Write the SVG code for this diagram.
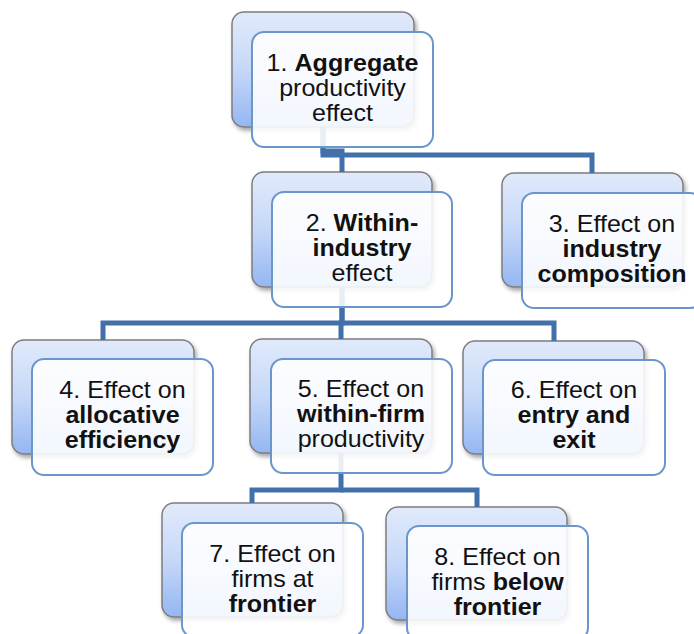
<svg xmlns="http://www.w3.org/2000/svg" width="694" height="634" viewBox="0 0 694 634">
  <defs>
    <linearGradient id="backGrad" x1="0" y1="0" x2="0" y2="1">
      <stop offset="0" stop-color="#e1eafb"/>
      <stop offset="0.5" stop-color="#c6d8f8"/>
      <stop offset="1" stop-color="#94b6f2"/>
    </linearGradient>
    <filter id="shadow" x="-10%" y="-10%" width="125%" height="130%">
      <feDropShadow dx="2" dy="3" stdDeviation="2" flood-color="#000" flood-opacity="0.35"/>
    </filter>
  </defs>
  <style>
    .back { fill: url(#backGrad); stroke: #7d7d7d; stroke-width: 1.5; filter: url(#shadow); }
    .front { fill: #ffffff; fill-opacity: 0.88; stroke: #6a96cc; stroke-width: 2; }
    .conn { fill: none; stroke: #4270aa; stroke-width: 5; stroke-linejoin: miter; }
    .lbl { font-family: "Liberation Sans", Arial, sans-serif; font-size: 23px; fill: #111111; text-anchor: middle; }
    .b { font-weight: bold; }
  </style>

  <g id="backs">
    <rect class="back" x="232" y="12" width="182" height="115" rx="12"/>
    <rect class="back" x="252" y="172" width="180" height="115" rx="12"/>
    <rect class="back" x="502" y="173" width="181" height="114" rx="12"/>
    <rect class="back" x="12" y="340" width="182" height="114" rx="12"/>
    <rect class="back" x="250" y="339" width="182" height="114" rx="12"/>
    <rect class="back" x="463" y="341" width="181" height="113" rx="12"/>
    <rect class="back" x="162" y="503" width="181" height="114" rx="12"/>
    <rect class="back" x="386" y="507" width="181" height="113" rx="12"/>
  </g>

  <g id="connectors">
    <path class="conn" d="M323,127 V151 H342 V172"/>
    <path class="conn" d="M323,127 V155 H592 V173"/>
    <path class="conn" d="M342,287 V323 H103 V340"/>
    <path class="conn" d="M342,287 V323 H341 V339"/>
    <path class="conn" d="M342,323 H554 V341"/>
    <path class="conn" d="M341,453 V490 H252 V503"/>
    <path class="conn" d="M341,490 H477 V507"/>
  </g>

  <g id="node1">
    <rect class="front" x="252" y="32" width="181" height="115" rx="12"/>
    <g transform="translate(342.5,0) scale(1.09,1)">
      <text class="lbl" x="0" y="71">1. <tspan class="b">Aggregate</tspan></text>
      <text class="lbl" x="0" y="96">productivity</text>
      <text class="lbl" x="0" y="121">effect</text>
    </g>
  </g>
  <g id="node2">
    <rect class="front" x="272" y="192" width="180" height="115" rx="12"/>
    <g transform="translate(362,0) scale(1.09,1)">
      <text class="lbl" x="0" y="231">2. <tspan class="b">Within-</tspan></text>
      <text class="lbl b" x="0" y="256">industry</text>
      <text class="lbl" x="0" y="281">effect</text>
    </g>
  </g>
  <g id="node3">
    <rect class="front" x="522" y="193" width="180" height="115" rx="12"/>
    <g transform="translate(612,0) scale(1.09,1)">
      <text class="lbl" x="0" y="232">3. Effect on</text>
      <text class="lbl b" x="0" y="257">industry</text>
      <text class="lbl b" x="0" y="282">composition</text>
    </g>
  </g>
  <g id="node4">
    <rect class="front" x="32" y="359" width="181" height="116" rx="12"/>
    <g transform="translate(122.5,0) scale(1.09,1)">
      <text class="lbl" x="0" y="398">4. Effect on</text>
      <text class="lbl b" x="0" y="423">allocative</text>
      <text class="lbl b" x="0" y="448">efficiency</text>
    </g>
  </g>
  <g id="node5">
    <rect class="front" x="271" y="359" width="181" height="114" rx="12"/>
    <g transform="translate(361,0) scale(1.09,1)">
      <text class="lbl" x="0" y="397">5. Effect on</text>
      <text class="lbl b" x="0" y="422">within-firm</text>
      <text class="lbl" x="0" y="447">productivity</text>
    </g>
  </g>
  <g id="node6">
    <rect class="front" x="483" y="360" width="182" height="115" rx="12"/>
    <g transform="translate(574,0) scale(1.09,1)">
      <text class="lbl" x="0" y="398">6. Effect on</text>
      <text class="lbl b" x="0" y="423">entry and</text>
      <text class="lbl b" x="0" y="448">exit</text>
    </g>
  </g>
  <g id="node7">
    <rect class="front" x="182" y="523" width="181" height="114" rx="12"/>
    <g transform="translate(272.5,0) scale(1.09,1)">
      <text class="lbl" x="0" y="562">7. Effect on</text>
      <text class="lbl" x="0" y="587">firms at</text>
      <text class="lbl b" x="0" y="612">frontier</text>
    </g>
  </g>
  <g id="node8">
    <rect class="front" x="407" y="526" width="181" height="114" rx="12"/>
    <g transform="translate(497.5,0) scale(1.09,1)">
      <text class="lbl" x="0" y="565">8. Effect on</text>
      <text class="lbl" x="0" y="590">firms <tspan class="b">below</tspan></text>
      <text class="lbl b" x="0" y="615">frontier</text>
    </g>
  </g>
</svg>
